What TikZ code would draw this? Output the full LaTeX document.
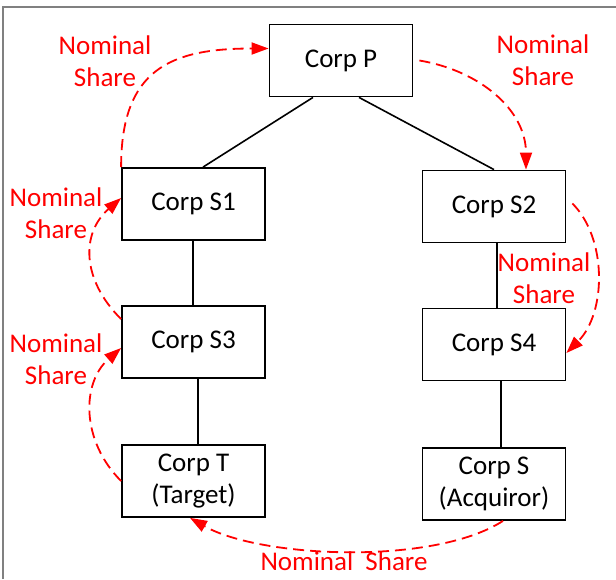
\documentclass[tikz,border=0pt]{standalone}
\usepackage{fontspec}
\setmainfont{Carlito}
\usetikzlibrary{arrows.meta}
\begin{document}
\begin{tikzpicture}[x=1pt,y=-1pt,
  corp/.style={draw=black,line width=1.8pt,minimum width=143pt,minimum height=72pt,inner sep=0pt,align=center,font=\fontsize{27}{32}\selectfont},
  link/.style={black,line width=1.6pt},
  share/.style={red,line width=1.8pt,dash pattern=on 11pt off 6pt,-{Triangle[length=17pt,width=12pt]}},
  lbl/.style={text=red,align=center,font=\fontsize{27}{32}\selectfont,inner sep=0pt}]
\useasboundingbox (0,0) rectangle (616,579);
\fill[white] (0,0) rectangle (616,579);
\draw[gray,line width=2pt] (3,579) -- (3,7) -- (616,7);
\node[corp] (P) at (341,60.5) {Corp P};
\node[corp] (S1) at (193.5,204) {Corp S1};
\node[corp] (S2) at (494,206.5) {Corp S2};
\node[corp] (S3) at (193.5,342) {Corp S3};
\node[corp] (S4) at (494,344.5) {Corp S4};
\node[corp] (T) at (193.5,481) {Corp T\\(Target)};
\node[corp] (S) at (494,484) {Corp S\\(Acquiror)};
\draw[link] ([xshift=-28pt]P.south) -- ([xshift=9.5pt]S1.north);
\draw[link] ([xshift=18pt]P.south) -- (S2.north);
\draw[link] ([xshift=-0.5pt]S1.south) -- ([xshift=-0.5pt]S3.north);
\draw[link] ([xshift=3pt]S2.south) -- ([xshift=3pt]S4.north);
\draw[link] ([xshift=4.5pt]S3.south) -- ([xshift=4.5pt]T.north);
\draw[link] ([xshift=7pt]S4.south) -- ([xshift=7pt]S.north);
\draw[share] (S1.north west) .. controls +(0,-98) and +(-98,0) .. ([yshift=12pt]P.west);
\draw[share] ([xshift=6pt]P.east) .. controls +(60,10) and +(0,-60) .. ([xshift=32pt]S2.north);
\draw[share] ([yshift=-14pt]S3.north west) .. controls +(-40,-40) and +(-40,35) .. ([yshift=6pt]S1.west);
\draw[share] (T.west) .. controls +(-40,-40) and +(-40,35) .. ([yshift=-6pt]S3.west);
\draw[share] ([xshift=6pt,yshift=3pt]S2.east) .. controls +(35,35) and +(40,-40) .. ([yshift=-8.5pt]S4.east);
\draw[share] ([xshift=9pt]S.south) .. controls +(-70,45) and +(70,40) .. ([xshift=-3.5pt]T.south);
\node[lbl] (l1) at (105,61) {Nominal\\Share};
\node[lbl] (l2) at (543,60) {Nominal\\Share};
\node[lbl] (l3) at (56,213) {Nominal\\Share};
\node[lbl] (l4) at (56,359) {Nominal\\Share};
\node[lbl] (l5) at (544,278) {Nominal\\Share};
\node[lbl] (l6) at (344,561) {Nominal\ \ Share};
\end{tikzpicture}
\end{document}
